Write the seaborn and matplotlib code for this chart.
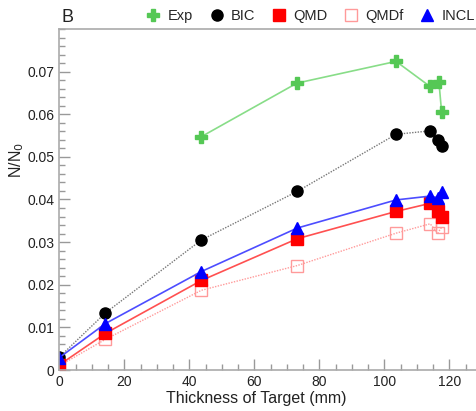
import matplotlib
matplotlib.use("Agg")
import matplotlib.pyplot as plt
import seaborn as sns
import pandas as pd
from matplotlib.lines import Line2D
from matplotlib.ticker import MultipleLocator

sns.set_theme(style="white")
plt.rcParams['font.family'] = ['Liberation Sans', 'DejaVu Sans']

exp_x = [43.6, 73.1, 103.6, 113.9, 116.8, 117.6]
exp_y = [0.0547, 0.0673, 0.0724, 0.0666, 0.0675, 0.0606]

sim_x = [0, 14.2, 43.7, 73.2, 103.6, 114.1, 116.4, 117.7]
bic_y = [0.0030, 0.0134, 0.0305, 0.0419, 0.0553, 0.0561, 0.0540, 0.0526]
qmd_y = [0.0012, 0.0086, 0.0210, 0.0308, 0.0372, 0.0391, 0.0372, 0.0360]
qmdf_y = [0.0010, 0.0072, 0.0187, 0.0245, 0.0321, 0.0343, 0.0321, 0.0336]
incl_y = [0.0029, 0.0109, 0.0231, 0.0333, 0.0399, 0.0408, 0.0404, 0.0418]

labels = ["Exp", "BIC", "QMD", "QMDf", "INCL"]

fig = plt.figure(figsize=(4.77, 4.11), dpi=100)
ax = fig.add_axes([59.3 / 477, 41 / 411, 1 - 59.3 / 477, (370 - 29) / 411])

green = "#55c855"
series = [
    (sim_x, bic_y, dict(color="#777777", lw=1.0, ls=(0, (1, 1))), dict(marker="o", mfc="black", mec="black", ms=8)),
    (sim_x, qmdf_y, dict(color="#ff9a9a", lw=1.0, ls=(0, (1, 1))), dict(marker="s", mfc="none", mec="#ff9a9a", ms=8, mew=1.0)),
    (sim_x, qmd_y, dict(color="#ff5050", lw=1.2, ls="-"), dict(marker="s", mfc="#ff0000", mec="#ff0000", ms=8)),
    (sim_x, incl_y, dict(color="#4d4dff", lw=1.2, ls="-"), dict(marker="^", mfc="#0000ff", mec="#0000ff", ms=9)),
    (exp_x, exp_y, dict(color="#88dd88", lw=1.2, ls="-"), dict(marker="P", mfc=green, mec=green, ms=9)),
]
for xs, ys, lkw, mkw in series:
    df = pd.DataFrame({"x": xs, "y": ys})
    sns.lineplot(data=df, x="x", y="y", ax=ax, sort=False, estimator=None,
                 color=lkw["color"], linewidth=lkw["lw"], linestyle=lkw["ls"])
    ax.plot(df["x"], df["y"], ls="none", **mkw)

ax.set_xlim(0, 128.5)
ax.set_ylim(0, 0.08)
ax.xaxis.set_major_locator(MultipleLocator(20))
ax.xaxis.set_minor_locator(MultipleLocator(5))
ax.yaxis.set_minor_locator(MultipleLocator(0.002))
ax.set_yticks([0, 0.01, 0.02, 0.03, 0.04, 0.05, 0.06, 0.07])
ax.set_yticklabels(["0", "0.01", "0.02", "0.03", "0.04", "0.05", "0.06", "0.07"])
ax.tick_params(which="both", direction="in", colors="#999999", labelcolor="#222222", labelsize=10)
ax.tick_params(which="major", length=8, width=1)
ax.tick_params(which="minor", length=4, width=1)
ax.tick_params(axis="x", which="both", bottom=True)
ax.tick_params(axis="y", which="both", left=True)
for side in ["left", "bottom", "top"]:
    ax.spines[side].set_color("#aaaaaa")
    ax.spines[side].set_linewidth(1.2)
ax.spines["right"].set_visible(False)

ax.set_xlabel("Thickness of Target (mm)", fontsize=11.5, color="#222222")
ax.set_ylabel("N/N$_0$", fontsize=11.5, color="#222222")
ax.xaxis.set_label_coords((256 - 59.3) / 417.7, -0.062)
ax.yaxis.set_label_coords((26 - 59.3) / 417.7, (370 - 160) / 341)

handles = [
    Line2D([], [], ls="none", marker="P", mfc=green, mec=green, ms=8),
    Line2D([], [], ls="none", marker="o", mfc="black", mec="black", ms=8),
    Line2D([], [], ls="none", marker="s", mfc="#ff0000", mec="#ff0000", ms=8),
    Line2D([], [], ls="none", marker="s", mfc="none", mec="#ff9a9a", ms=8),
    Line2D([], [], ls="none", marker="^", mfc="#0000ff", mec="#0000ff", ms=8),
]
fig.legend(handles, labels, loc="center", bbox_to_anchor=(0.65, 1 - 16 / 411), ncol=5,
           frameon=False, fontsize=10.5, handletextpad=0.4, columnspacing=1.0,
           handlelength=1.2, borderpad=0)
fig.text(62 / 477, 1 - 18 / 411, "B", fontsize=13, color="#222222", va="center", ha="left")

fig.savefig("out.png", dpi=100)
